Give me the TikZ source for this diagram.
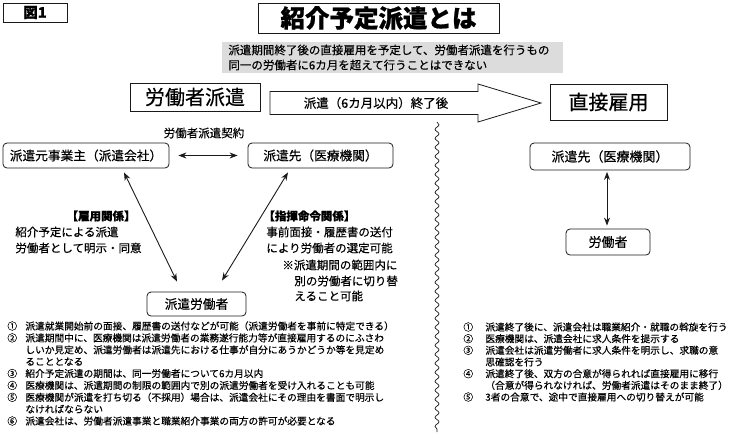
\documentclass[tikz,border=0pt]{standalone}
\usepackage{fontspec}
\setmainfont{Noto Sans CJK JP}[UprightFeatures={FakeBold=0.4},BoldFeatures={FakeBold=0.8}]
\usepackage{tikz}
\usetikzlibrary{arrows.meta,decorations.pathmorphing}
\definecolor{ink}{HTML}{1A1A1A}
\definecolor{shade}{HTML}{DCDCDC}

\begin{document}
\begin{tikzpicture}[x=1pt,y=-1pt,line width=0.8pt,
  sqbox/.style={draw=ink,inner sep=0pt},
  rndbox/.style={draw=ink,rounded corners=4pt,inner sep=0pt,font=\fontsize{12.7}{14}\selectfont},
  twoway/.style={{Stealth[length=8pt,width=6pt]}-{Stealth[length=8pt,width=6pt]},draw=ink,line width=0.9pt},
  note/.style={font=\fontsize{11.5}{13}\selectfont,inner sep=0pt},
  notehead/.style={font=\bfseries\fontsize{11.5}{13}\selectfont,inner sep=0pt},
  listline/.style={font=\fontsize{9.7}{11}\selectfont,inner sep=0pt,anchor=west}]
\useasboundingbox (0,0) rectangle (730,432);
\node[sqbox,minimum width=64,minimum height=19,font=\bfseries\fontsize{14.5}{16}\selectfont] (fig) at (35,12.5) {図1};
\node[sqbox,minimum width=241,minimum height=30,font=\bfseries\fontsize{24.5}{28}\selectfont] (title) at (378.5,18) {紹介予定派遣とは};
\node[fill=shade,anchor=west,inner xsep=6pt,inner ysep=0pt,text width=329pt,minimum height=31pt,align=left,font=\fontsize{11.5}{15}\selectfont] (summary) at (222,57.5) {派遣期間終了後の直接雇用を予定して、労働者派遣を行うもの\\同一の労働者に6カ月を超えて行うことはできない};
\node[sqbox,minimum width=130,minimum height=28,font=\fontsize{20}{22}\selectfont] (dispatch) at (195,97) {労働者派遣};
\node[sqbox,minimum width=117,minimum height=36,font=\fontsize{20}{22}\selectfont] (direct) at (608.5,102) {直接雇用};
\draw[ink,fill=white] (270,91.5) -- (478,91.5) -- (478,84) -- (541,103) -- (478,122) -- (478,114.5) -- (270,114.5) -- cycle;
\node[font=\fontsize{12.5}{14}\selectfont,inner sep=0pt] (term) at (376,103) {派遣（6カ月以内）終了後};
\node[note] (contract) at (204,133) {労働者派遣契約};
\node[rndbox,minimum width=166,minimum height=25] (agency) at (86,155.5) {派遣元事業主（派遣会社）};
\node[rndbox,minimum width=145,minimum height=25] (client) at (320.5,155.5) {派遣先（医療機関）};
\node[rndbox,minimum width=99,minimum height=24] (worker) at (196.5,304) {派遣労働者};
\node[rndbox,minimum width=160,minimum height=27,font=\fontsize{13}{14}\selectfont] (client2) at (610,156.5) {派遣先（医療機関）};
\node[rndbox,minimum width=84,minimum height=26,font=\fontsize{13}{14}\selectfont] (staff) at (608,242) {労働者};
\draw[twoway,shorten <=9pt,shorten >=10pt] (agency) -- (client);
\draw[twoway] ([xshift=38pt,yshift=-4pt]agency.south) -- ([xshift=-19.5pt,yshift=10pt]worker.north);
\draw[twoway] ([xshift=-32.5pt,yshift=-4pt]client.south) -- ([xshift=25.5pt,yshift=11pt]worker.north);
\draw[twoway] ([xshift=-3pt,yshift=-1.5pt]client2.south) -- ([xshift=-1pt,yshift=3pt]staff.north);
\node[notehead,anchor=east] (emp) at (136,216) {【雇用関係】};
\node[note,anchor=west] (emp1) at (15,232) {紹介予定による派遣};
\node[note,anchor=west] (emp2) at (15,248) {労働者として明示・同意};
\node[notehead,anchor=west] (cmd) at (263,216) {【指揮命令関係】};
\node[note,anchor=west] (cmd1) at (266,232) {事前面接・履歴書の送付};
\node[note,anchor=west] (cmd2) at (266,248) {により労働者の選定可能};
\node[note,anchor=west] (cmd3) at (282,265) {※派遣期間の範囲内に};
\node[note,anchor=west] (cmd4) at (294,281) {別の労働者に切り替};
\node[note,anchor=west] (cmd5) at (294,296) {えること可能};
\draw[ink,line width=0.7pt,decorate,decoration={snake,amplitude=2pt,segment length=9pt}] (437,122) -- (437,432);
\foreach \y/\m [count=\i] in {326/①,337.9/②,373.5/③,385.4/④,397.3/⑤,421/⑥}
  \node[listline] (leftno\i) at (7,\y) {\m};
\foreach \y/\txt [count=\i] in {326/{派遣就業開始前の面接、履歴書の送付などが可能（派遣労働者を事前に特定できる）},
  337.9/{派遣期間中に、医療機関は派遣労働者の業務遂行能力等が直接雇用するのにふさわ},
  349.8/{しいか見定め、派遣労働者は派遣先における仕事が自分にあうかどうか等を見定め},
  361.6/{ることとなる},
  373.5/{紹介予定派遣の期間は、同一労働者について6カ月以内},
  385.4/{医療機関は、派遣期間の制限の範囲内で別の派遣労働者を受け入れることも可能},
  397.3/{医療機関が派遣を打ち切る（不採用）場合は、派遣会社にその理由を書面で明示し},
  409.1/{なければならない},
  421/{派遣会社は、労働者派遣事業と職業紹介事業の両方の許可が必要となる}}
  \node[listline] (left\i) at (25,\y) {\txt};
\foreach \y/\m [count=\i] in {327/①,338.7/②,350.3/③,373.7/④,397/⑤}
  \node[listline] (rightno\i) at (463,\y) {\m};
\foreach \y/\txt [count=\i] in {327/{派遣終了後に、派遣会社は職業紹介・就職の斡旋を行う},
  338.7/{医療機関は、派遣会社に求人条件を提示する},
  350.3/{派遣会社は派遣労働者に求人条件を明示し、求職の意},
  362/{思確認を行う},
  373.7/{派遣終了後、双方の合意が得られれば直接雇用に移行},
  385.3/{（合意が得られなければ、労働者派遣はそのまま終了）},
  397/{3者の合意で、途中で直接雇用への切り替えが可能}}
  \node[listline] (right\i) at (485,\y) {\txt};
\end{tikzpicture}
\end{document}
